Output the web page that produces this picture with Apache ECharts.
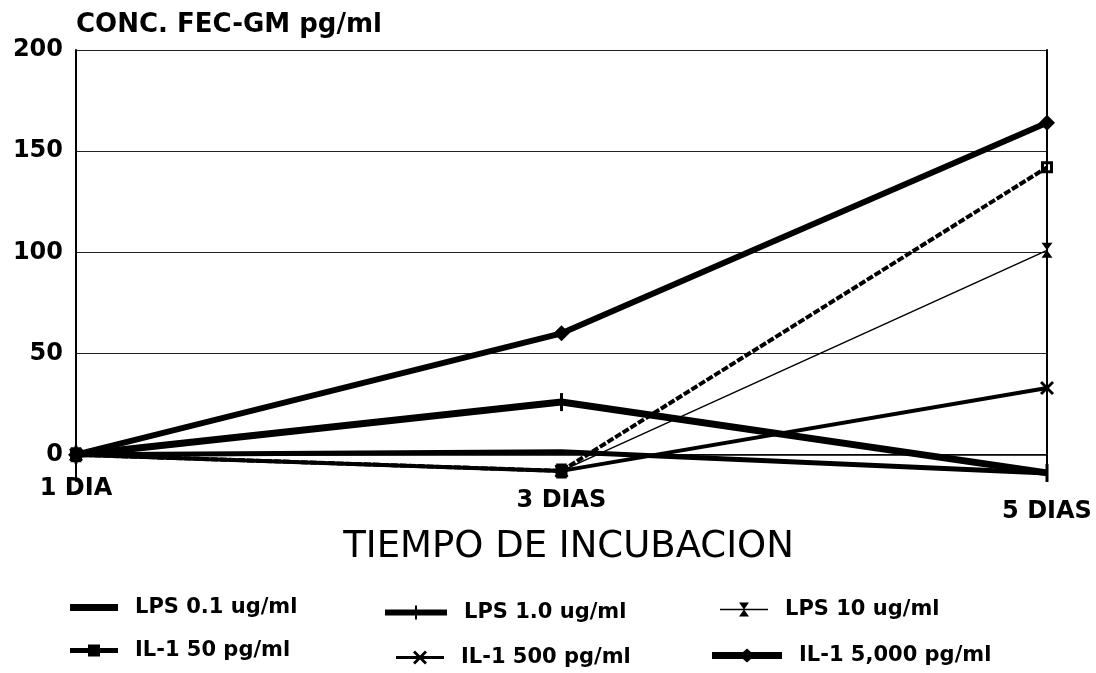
<!DOCTYPE html>
<html>
<head>
<meta charset="utf-8">
<title>FEC-GM</title>
<script src="https://cdn.jsdelivr.net/npm/echarts@6/dist/echarts.min.js"></script>
<style>
  html, body { margin: 0; padding: 0; background: #fff; }
  #chart { width: 1096px; height: 673px; }
</style>
</head>
<body>
<div id="chart"></div>
<script>
// categories and values (pg/ml)
const days = ['1 DIA', '3 DIAS', '5 DIAS'];
const yTicks = [0, 50, 100, 150, 200];

const lps01 = [0, 1.5, -9];
const lps10 = [0, 26, -9];
const lps100 = [0, -8, 101];
const il50 = [0, -8, 142];
const il500 = [0, -8, 33];
const il5000 = [0, 60, 164];

const names = ['LPS 0.1 ug/ml', 'LPS 1.0 ug/ml', 'LPS 10 ug/ml',
  'IL-1 50 pg/ml', 'IL-1 500 pg/ml', 'IL-1 5,000 pg/ml'];

const FONT = 'DejaVu Sans';
const INK = '#000';

// marker shapes
const hourglass = 'path://M0,0L10,0L5,7L10,14L0,14L5,7Z';
const cross = 'path://M0,2L2,0L7,5L12,0L14,2L9,7L14,12L12,14L7,9L2,14L0,12L5,7Z';
const ring = 'path://M0,0H12V12H0Z M3,3V9H9V3Z';

// legend icons: line + marker drawn as one filled path (box = itemWidth x 14)
const legendIcons = [
  'path://M0,0H48V7H0Z',
  'path://M0,4H30V0H32V4H62V10H32V14H30V10H0Z',
  'path://M0,6.3H48V7.7H0Z M19,0H29L24,7L29,14H19L24,7Z',
  'path://M0,4.5H48V9.5H0Z M18,1H30V13H18Z',
  'path://M0,5.5H48V8.5H0Z M17,2L19,0L24,5L29,0L31,2L26,7L31,12L29,14L24,9L19,14L17,12L22,7Z',
  'path://M0,3.5H70V10.5H0Z M35,0L43,7L35,14L27,7Z'
];
const legendWidth = [48, 62, 48, 48, 48, 70];
const legendPos = [
  { left: 70, top: 597 }, { left: 385, top: 602 }, { left: 720, top: 599 },
  { left: 70, top: 640 }, { left: 396, top: 647 }, { left: 712, top: 645 }
];

function line(name, data, width, symbol, symbolSize, extra) {
  return Object.assign({
    name: name,
    type: 'line',
    data: data,
    symbol: symbol,
    symbolSize: symbolSize,
    color: INK,
    lineStyle: { color: INK, width: width },
    itemStyle: { color: INK },
    animation: false,
    z: 3
  }, extra || {});
}

const series = [
  line(names[0], lps01, 5, 'none', 0),
  line(names[1], lps10, 7, 'rect', [3, 18]),
  line(names[2], lps100, 1.5, hourglass, [11, 15]),
  line(names[3], il50, 4, ring, 12, {
    lineStyle: { color: INK, width: 4, type: [7, 2] }
  }),
  line(names[4], il500, 4, cross, 14),
  line(names[5], il5000, 6, 'diamond', 16)
];

// one legend per item so each sits where the scan has it
const legends = names.map((n, i) => ({
  data: [{ name: n, icon: legendIcons[i] }],
  left: legendPos[i].left,
  top: legendPos[i].top,
  padding: 0,
  itemWidth: legendWidth[i],
  itemHeight: 14,
  selectedMode: false,
  textStyle: {
    fontFamily: FONT, fontWeight: 'bold', fontSize: 21, color: INK,
    padding: [0, 0, 0, 12]
  }
}));

const chart = echarts.init(document.getElementById('chart'), null, { renderer: 'canvas' });
chart.setOption({
  backgroundColor: '#fff',
  animation: false,
  grid: { left: 76, right: 49, top: 50, bottom: 192, containLabel: false },
  legend: legends,
  xAxis: {
    type: 'category',
    data: days,
    boundaryGap: false,
    name: 'TIEMPO DE INCUBACION',
    nameLocation: 'middle',
    nameGap: 48,
    nameTextStyle: { fontFamily: FONT, fontSize: 37, color: INK, padding: [0, 0, 0, 14] },
    axisLine: { show: true, onZero: true, lineStyle: { color: INK, width: 1.5 } },
    axisTick: { show: false },
    axisLabel: {
      margin: -4,
      fontFamily: FONT, fontWeight: 'bold', fontSize: 24, color: INK,
      // the scan drifts lower towards the right
      formatter: function (v, i) { return '{d' + i + '|' + v + '}'; },
      rich: {
        d0: { fontFamily: FONT, fontWeight: 'bold', fontSize: 24, color: INK, padding: [0, 0, 0, 0] },
        d1: { fontFamily: FONT, fontWeight: 'bold', fontSize: 24, color: INK, padding: [12, 0, 0, 0] },
        d2: { fontFamily: FONT, fontWeight: 'bold', fontSize: 24, color: INK, padding: [23, 0, 0, 0] }
      }
    },
    splitLine: { show: false }
  },
  yAxis: [{
    type: 'value',
    min: -13,
    max: 200,
    name: 'CONC. FEC-GM pg/ml',
    nameLocation: 'end',
    nameGap: 12,
    nameTextStyle: {
      align: 'left', fontFamily: FONT, fontWeight: 'bold', fontSize: 26, color: INK
    },
    axisLine: { show: true, lineStyle: { color: INK, width: 2 } },
    axisTick: { show: false, customValues: yTicks },
    axisLabel: {
      customValues: yTicks,
      margin: 13,
      fontFamily: FONT, fontWeight: 'bold', fontSize: 24, color: INK
    },
    splitLine: { show: true, lineStyle: { color: '#222', width: 1.2 } }
  }, {
    // right frame line at 5 DIAS
    type: 'value',
    position: 'right',
    min: -13,
    max: 200,
    axisLine: { show: true, lineStyle: { color: INK, width: 2 } },
    axisTick: { show: false },
    axisLabel: { show: false },
    splitLine: { show: false }
  }],
  series: series
});
</script>
</body>
</html>
